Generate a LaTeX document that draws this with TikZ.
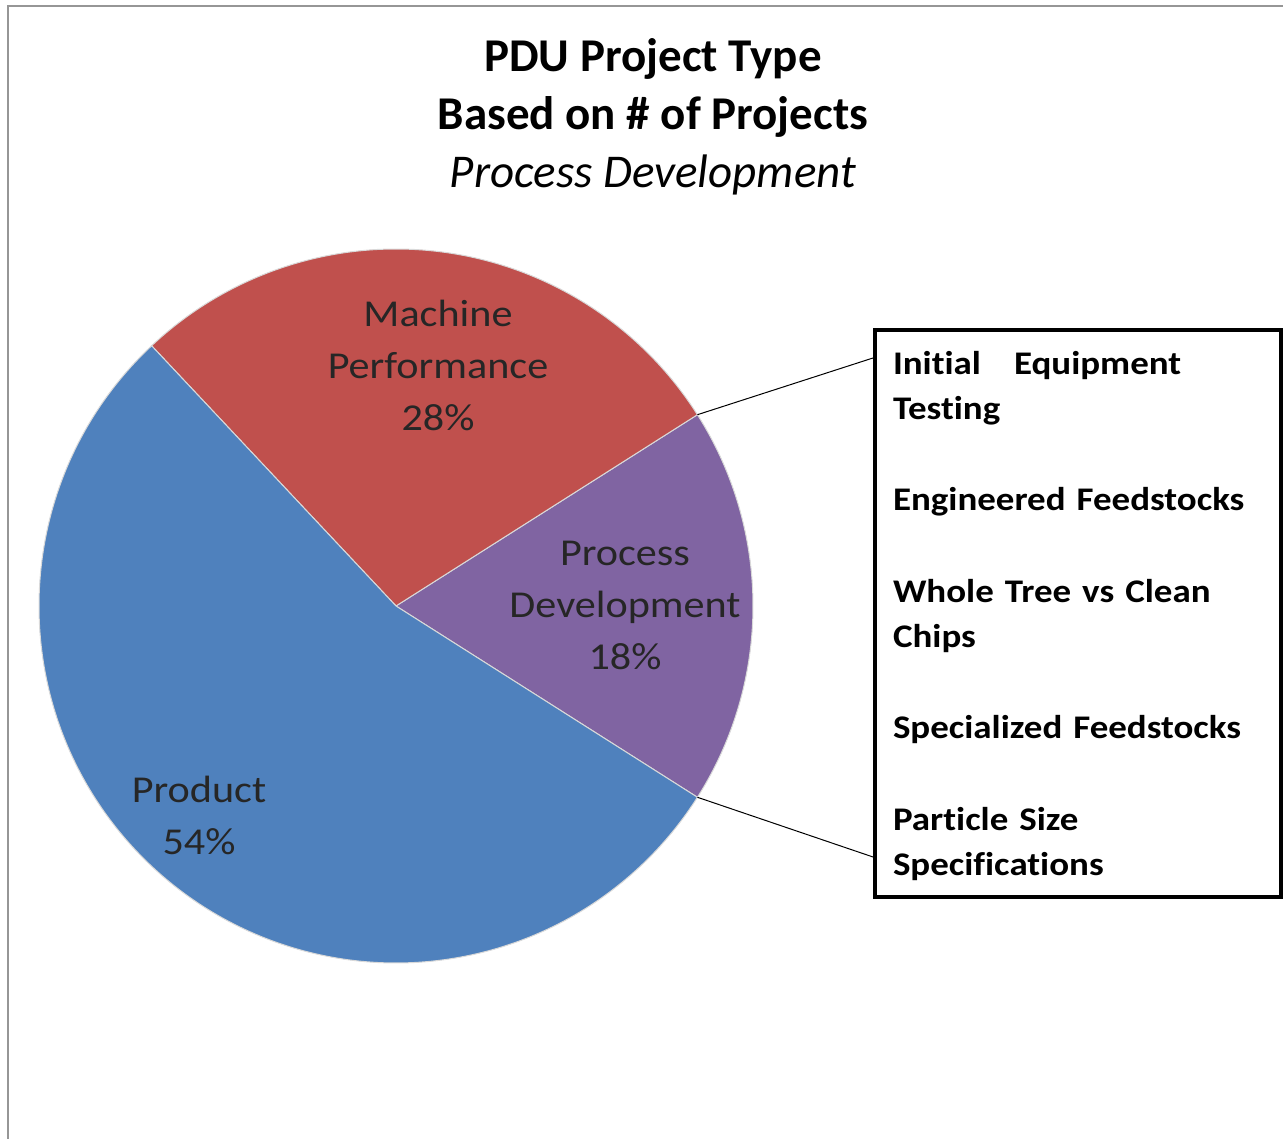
\documentclass[tikz,border=0pt]{standalone}
\usepackage{fontspec}
\setmainfont{Carlito}[Ligatures=NoCommon]
\newfontfamily\piefont{Carlito}[Ligatures=NoCommon, FakeStretch=1.11]
\newfontfamily\legendfont{Carlito}[Ligatures=NoCommon, FakeStretch=1.12]
\usetikzlibrary{calc}
\usetikzlibrary{positioning}

\definecolor{pieblue}{RGB}{79,129,189}
\definecolor{piered}{RGB}{192,80,77}
\definecolor{piepurple}{RGB}{128,100,162}
\definecolor{framegray}{RGB}{150,150,150}

\begin{document}
\begin{tikzpicture}[%
  x=1pt, y=1pt,
  slice/.style={draw=white!85!black, line width=1pt},
  pielabel/.style={align=center, text=black!85,
    font=\piefont\fontsize{38}{52}\selectfont},
  titleline/.style={anchor=base, font=\bfseries\fontsize{47}{58}\selectfont},
  legendbox/.style={draw, line width=4pt, align=left,
    minimum width=406pt, minimum height=567pt, text width=370pt,
    inner xsep=16pt, font=\legendfont\bfseries\fontsize{33}{45.6}\selectfont},
]

  \useasboundingbox (0,0) rectangle (1283,1139);
  \draw[framegray, line width=2pt] (8,0) -- (8,1132.5) -- (1283,1132.5);

  \coordinate (c) at (396,533);
  \def\rad{357pt}

  % slices
  \filldraw[slice, fill=piepurple] (c) -- ++(-32.4:\rad)
    arc[start angle=-32.4, end angle=32.4, radius=\rad] -- cycle;
  \filldraw[slice, fill=piered] (c) -- ++(32.4:\rad)
    arc[start angle=32.4, end angle=133.2, radius=\rad] -- cycle;
  \filldraw[slice, fill=pieblue] (c) -- ++(133.2:\rad)
    arc[start angle=133.2, end angle=327.6, radius=\rad] -- cycle;

  \coordinate (ptop) at ($(c)+(32.4:\rad)$);
  \coordinate (pbot) at ($(c)+(-32.4:\rad)$);

  % title
  \node[titleline] (title1) at (653,1067) {PDU Project Type};
  \node[titleline] (title2) at (653,1009) {Based on \# of Projects};
  \node[titleline, font=\itshape\fontsize{47}{58}\selectfont] (title3)
    at (653,951) {Process Development};

  % slice labels
  \node[pielabel] (machine) at (438,774) {Machine\\Performance\\28\%};
  \node[pielabel] (process) at (625,534) {Process\\Development\\18\%};
  \node[pielabel] (product) at (199,324) {Product\\54\%};

  % legend
  \node[legendbox] (legend) at (1078,525.5) {%
    \rule{0pt}{28pt}Initial\ \ \ Equipment\\Testing\\[45.6pt]
    Engineered Feedstocks\\[45.6pt]
    Whole Tree vs Clean\\Chips\\[45.6pt]
    Specialized Feedstocks\\[45.6pt]
    Particle Size\\Specifications};

  \coordinate (lt) at ($(legend.north west)+(0,-30)$);
  \coordinate (lb) at ($(legend.south west)+(0,42)$);
  \draw[line width=1pt] (ptop) -- (lt);
  \draw[line width=1pt] (pbot) -- (lb);

\end{tikzpicture}
\end{document}
